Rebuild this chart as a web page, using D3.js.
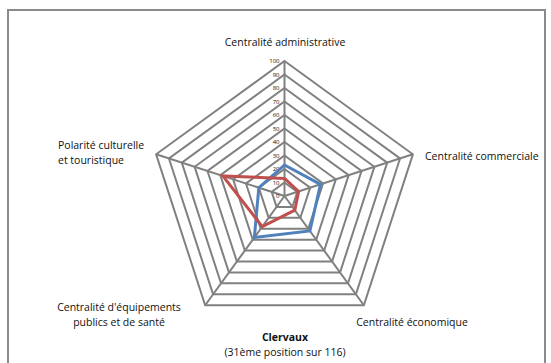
<!DOCTYPE html>
<html><head><meta charset="utf-8">
<script src="https://cdn.jsdelivr.net/npm/d3@7"></script>
<style>body{margin:0;background:#fff}svg{display:block}</style>
</head><body>
<svg id="c" width="551" height="363"></svg>
<script>
const axes = ["Centralité administrative","Centralité commerciale","Centralité économique","Centralité d'équipements publics et de santé","Polarité culturelle et touristique"];
const seriesBlue = [23, 28, 32, 38, 20];
const seriesRed = [13, 11, 13, 28, 48];
const ticks = [0,10,20,30,40,50,60,70,80,90,100];
const title = "Clervaux";
const subtitle = "(31ème position sur 116)";

const svg = d3.select("#c");
const cx = 284.5, cy = 196, R = 135;
const r = d3.scaleLinear().domain([0,100]).range([0,R]);
const ang = d3.scaleLinear().domain([0, axes.length]).range([-Math.PI/2, 1.5*Math.PI]);
const pt = (i, v) => [cx + r(v)*Math.cos(ang(i)), cy + r(v)*Math.sin(ang(i))];

// frame
svg.append("rect").attr("x",8).attr("y",10).attr("width",537).attr("height",370)
  .attr("fill","none").attr("stroke","#8a8a8a").attr("stroke-width",2);

const grid = svg.append("g");
const line = d3.line();
ticks.slice(1).forEach(t=>{
  grid.append("path").attr("d", line(axes.map((a,i)=>pt(i,t))) + "Z")
    .attr("fill","none").attr("stroke","#808080").attr("stroke-width",2);
});
axes.forEach((a,i)=>{
  const [x,y]=pt(i,100);
  grid.append("line").attr("x1",cx).attr("y1",cy).attr("x2",x).attr("y2",y)
    .attr("stroke","#808080").attr("stroke-width",2);
});

// tick labels
svg.append("g").selectAll("text").data(ticks).join("text")
  .attr("x", cx-5).attr("y", d=>cy - r(d)).attr("dy","0.35em")
  .attr("text-anchor","end").attr("font-family","'Open Sans', sans-serif")
  .attr("font-size",6).attr("fill","#111").text(d=>d);

// series
[[seriesBlue,"#4f81bd"],[seriesRed,"#c0504d"]].forEach(([s,c])=>{
  svg.append("path").attr("d", line(s.map((v,i)=>pt(i,v)))+"Z")
    .attr("fill","none").attr("stroke",c).attr("stroke-width",3).attr("stroke-linejoin","miter");
});

const font = "'Open Sans', sans-serif";
const lab = (lines, x, y, anchor, weight) => {
  const t = svg.append("text").attr("font-family",font).attr("font-size",10.5)
    .attr("fill","#111").attr("text-anchor",anchor).attr("font-weight",weight||"normal");
  lines.forEach((l,k)=>t.append("tspan").attr("x",x).attr("y",y+k*15).text(l));
};
lab([axes[0]], 285, 46, "middle");
lab([axes[1]], 425, 160, "start");
lab([axes[2]], 412, 326, "middle");
lab(["Centralité d'équipements","publics et de santé"], 119, 311, "middle");
lab(["Polarité culturelle","et touristique"], 58, 149, "start");
lab([title], 285, 341, "middle", "bold");
lab([subtitle], 285, 356, "middle");
</script>
</body></html>
